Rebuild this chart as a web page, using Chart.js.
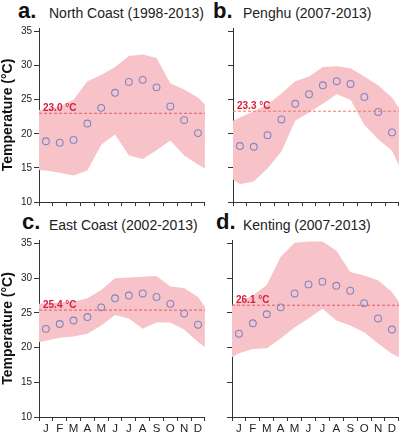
<!DOCTYPE html>
<html>
<head>
<meta charset="utf-8">
<script src="https://cdn.jsdelivr.net/npm/chart.js@4/dist/chart.umd.min.js"></script>
<style>
  body { margin: 0; background: #fff; width: 404px; height: 436px; overflow: hidden; position: relative; font-family: Arial, "Liberation Sans", sans-serif; }
  .panel { position: absolute; }
  .tag { position: absolute; font-weight: bold; font-size: 22px; line-height: 22px; color: #111; }
  .name { position: absolute; font-size: 14px; line-height: 14px; color: #222; white-space: nowrap; }
</style>
</head>
<body>

<div class="tag" style="left:18px;top:0px">a.</div>
<div class="name" style="left:49px;top:6px">North Coast (1998-2013)</div>
<div class="tag" style="left:213px;top:0px">b.</div>
<div class="name" style="left:243px;top:6px">Penghu (2007-2013)</div>
<div class="tag" style="left:22px;top:211px">c.</div>
<div class="name" style="left:49px;top:218px">East Coast (2002-2013)</div>
<div class="tag" style="left:216px;top:211px">d.</div>
<div class="name" style="left:243px;top:218px">Kenting (2007-2013)</div>

<div class="panel" style="left:0;top:20px;width:210px;height:190px"><canvas id="chartA"></canvas></div>
<div class="panel" style="left:196px;top:20px;width:208px;height:190px"><canvas id="chartB"></canvas></div>
<div class="panel" style="left:0;top:230px;width:210px;height:206px"><canvas id="chartC"></canvas></div>
<div class="panel" style="left:196px;top:230px;width:208px;height:206px"><canvas id="chartD"></canvas></div>

<script>
/* --------------------------------------------
   Data (monthly SST, °C)
-------------------------------------------- */
const months = ["J", "F", "M", "A", "M", "J", "J", "A", "S", "O", "N", "D"];
const monthX = [1, 2, 3, 4, 5, 6, 7, 8, 9, 10, 11, 12];
// band is drawn from the left axis edge, through each month, to the right edge
const bandX = [0.5, 1, 2, 3, 4, 5, 6, 7, 8, 9, 10, 11, 12, 12.5];
const yTicks = [10, 15, 20, 25, 30, 35];

const northMean = [18.9, 18.7, 19.1, 21.5, 23.8, 26.0, 27.6, 27.9, 26.8, 24.0, 22.0, 20.1];
const northMax = [23.5, 23.6, 24.0, 25.0, 27.7, 28.6, 29.8, 31.4, 31.6, 31.1, 27.4, 26.5, 25.3, 24.3];
const northMin = [14.7, 14.6, 14.3, 13.9, 14.6, 18.4, 19.9, 16.8, 16.3, 17.6, 19.0, 16.8, 15.5, 14.9];
const northAvg = 23.0;

const penghuMean = [18.2, 18.1, 19.8, 22.1, 24.4, 25.8, 27.1, 27.7, 27.3, 25.4, 23.2, 20.2];
const penghuMax = [21.9, 22.4, 23.3, 24.3, 25.9, 27.7, 28.4, 29.8, 29.9, 29.6, 28.4, 27.1, 25.3, 23.8];
const penghuMin = [13.3, 12.6, 13.0, 14.9, 17.4, 21.9, 23.1, 24.4, 25.8, 25.0, 21.3, 19.2, 17.5, 15.4];
const penghuAvg = 23.3;

const eastMean = [22.7, 23.4, 23.9, 24.4, 25.8, 27.1, 27.5, 27.8, 27.3, 26.3, 24.9, 23.3];
const eastMax = [26.3, 26.4, 26.5, 26.6, 27.1, 28.3, 30.0, 30.1, 30.2, 30.3, 28.8, 28.6, 27.3, 25.9];
const eastMin = [20.8, 21.0, 21.4, 21.6, 22.0, 23.2, 24.7, 24.2, 22.7, 23.6, 23.6, 22.6, 20.8, 20.1];
const eastAvg = 25.4;

const kentingMean = [22.0, 23.5, 24.8, 25.8, 27.8, 29.1, 29.5, 28.9, 28.2, 26.4, 24.2, 22.6];
const kentingMax = [26.1, 26.6, 27.5, 29.0, 33.1, 35.1, 35.3, 35.3, 34.0, 30.9, 30.4, 29.7, 28.0, 26.6];
const kentingMin = [18.6, 19.2, 19.8, 19.9, 21.3, 22.9, 24.2, 25.6, 23.9, 23.2, 22.2, 20.6, 19.1, 18.6];
const kentingAvg = 26.1;

/* --------------------------------------------
   Utils
-------------------------------------------- */
const toPoints = (xs, ys) => ys.map((y, i) => ({ x: xs[i], y }));

const avgLabelPlugin = {
  id: "avgLabel",
  afterDatasetsDraw(chart, args, opts) {
    const { ctx, chartArea, scales } = chart;
    const y = scales.y.getPixelForValue(opts.value);
    ctx.save();
    ctx.font = "bold 10px Arial, 'Liberation Sans', sans-serif";
    ctx.fillStyle = "#d81e3c";
    ctx.textBaseline = "alphabetic";
    ctx.fillText(`${opts.value.toFixed(1)} °C`, chartArea.left + 4, y - 2);
    ctx.restore();
  },
};

/* --------------------------------------------
   Panel
-------------------------------------------- */
const makePanel = (id, cfg) => {
  new Chart(document.getElementById(id), {
    type: "line",
    data: {
      labels: months,
      datasets: [
        {
          // monthly max (upper edge of the band)
          data: toPoints(bandX, cfg.max),
          xAxisID: "xl",
          order: 3,
          borderWidth: 0,
          borderColor: "rgba(0,0,0,0)",
          pointRadius: 0,
          backgroundColor: "#f7c3c8",
          fill: "+1",
          tension: 0,
        },
        {
          // monthly min (lower edge)
          data: toPoints(bandX, cfg.min),
          xAxisID: "xl",
          order: 4,
          borderWidth: 0,
          borderColor: "rgba(0,0,0,0)",
          pointRadius: 0,
          fill: false,
          tension: 0,
        },
        {
          // overall average
          data: [
            { x: 0.5, y: cfg.avg },
            { x: 12.5, y: cfg.avg },
          ],
          xAxisID: "xl",
          order: 2,
          borderColor: cfg.lineColor,
          borderWidth: 1,
          borderDash: [3, 2],
          pointRadius: 0,
          fill: false,
        },
        {
          // monthly mean
          data: toPoints(monthX, cfg.mean),
          xAxisID: "xl",
          order: 1,
          showLine: false,
          fill: false,
          pointRadius: 3.4,
          pointBorderWidth: 1.1,
          pointBorderColor: "#7f86c2",
          pointBackgroundColor: "rgba(0,0,0,0)",
        },
      ],
    },
    options: {
      responsive: true,
      maintainAspectRatio: false,
      animation: false,
      events: [],
      layout: { padding: { top: cfg.padTop, right: cfg.padRight, left: 0, bottom: 0 } },
      plugins: {
        legend: { display: false },
        tooltip: { enabled: false },
        avgLabel: { value: cfg.avg },
      },
      scales: {
        x: {
          type: "category",
          offset: true,
          grid: { offset: true, drawOnChartArea: false, tickLength: 4, color: "#333" },
          border: { display: true, color: "#333" },
          ticks: {
            display: cfg.showX,
            color: "#222",
            font: { family: "Arial, 'Liberation Sans', sans-serif", size: 11.5 },
            padding: 1,
            maxRotation: 0,
            autoSkip: false,
          },
          afterFit: (s) => { s.height = cfg.xHeight; },
        },
        xl: { type: "linear", display: false, min: 0.5, max: 12.5 },
        y: {
          min: 10,
          max: 35.5,
          afterBuildTicks: (s) => { s.ticks = yTicks.map((v) => ({ value: v })); },
          grid: { drawOnChartArea: false, tickLength: 5, color: "#333" },
          border: { display: true, color: "#333" },
          ticks: {
            color: "#222",
            padding: 2,
            font: { family: "Arial, 'Liberation Sans', sans-serif", size: 10 },
            callback: (v) => (cfg.showY ? v : ""),
          },
          title: {
            display: cfg.showY,
            text: "Temperature (°C)",
            color: "#111",
            padding: { top: 0, bottom: 0 },
            font: { family: "Arial, 'Liberation Sans', sans-serif", size: 14, weight: "bold" },
          },
          afterFit: (s) => { s.width = cfg.yWidth; },
        },
      },
    },
    plugins: [avgLabelPlugin],
  });
};

/* --------------------------------------------
   Boot
-------------------------------------------- */
makePanel("chartA", { mean: northMean, max: northMax, min: northMin, avg: northAvg, lineColor: "#e45a68",
  padTop: 8, padRight: 1, yWidth: 39, xHeight: 6, showX: false, showY: true });
makePanel("chartB", { mean: penghuMean, max: penghuMax, min: penghuMin, avg: penghuAvg, lineColor: "#ee7d66",
  padTop: 8, padRight: 0, yWidth: 37, xHeight: 6, showX: false, showY: false });
makePanel("chartC", { mean: eastMean, max: eastMax, min: eastMin, avg: eastAvg, lineColor: "#e45a68",
  padTop: 10, padRight: 1, yWidth: 39, xHeight: 19, showX: true, showY: true });
makePanel("chartD", { mean: kentingMean, max: kentingMax, min: kentingMin, avg: kentingAvg, lineColor: "#e45a68",
  padTop: 10, padRight: 0, yWidth: 36, xHeight: 19, showX: true, showY: false });
</script>
</body>
</html>
